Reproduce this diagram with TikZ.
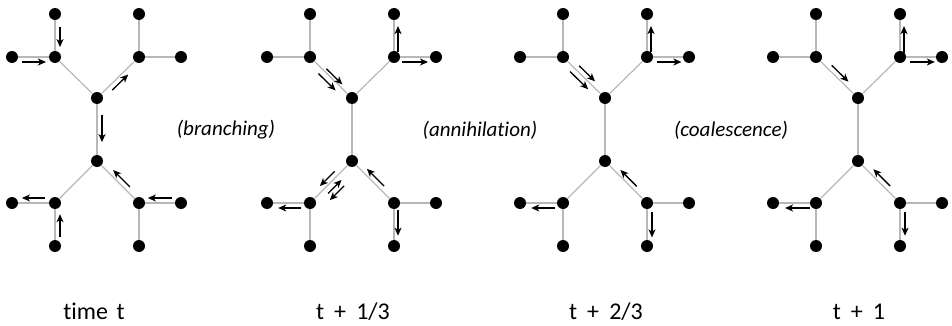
\documentclass[tikz,border=0pt]{standalone}
\usepackage{fontspec}
\setmainfont[Ligatures=NoCommon]{Carlito}
\usetikzlibrary{calc,arrows.meta}
\tikzset{
  dot/.style={circle,fill=black,inner sep=0pt,minimum size=12pt},
  edge/.style={draw=black!28,line width=1.2pt},
  arw/.style={draw=black,line width=1.3pt,-{Stealth[length=8pt,width=7pt,inset=2.2pt]}},
  midlbl/.style={font=\fontsize{21}{25}\selectfont\itshape},
  botlbl/.style={font=\fontsize{24}{28}\selectfont,anchor=base,inner sep=0pt}
}
\newcommand\wsp{\hspace{0.42em}}
\newcommand\mytree[2]{%
  \node[dot] (#1tl) at (#2-42,14) {};
  \node[dot] (#1L) at (#2-42,57) {};
  \node[dot] (#1l) at (#2-85,57) {};
  \node[dot] (#1tr) at (#2+42,14) {};
  \node[dot] (#1R) at (#2+42,57) {};
  \node[dot] (#1r) at (#2+84,57) {};
  \node[dot] (#1T) at (#2,98) {};
  \node[dot] (#1B) at (#2,161) {};
  \node[dot] (#1BL) at (#2-42,203) {};
  \node[dot] (#1bl) at (#2-85,203) {};
  \node[dot] (#1bb) at (#2-42,246) {};
  \node[dot] (#1BR) at (#2+42,203) {};
  \node[dot] (#1br) at (#2+84,203) {};
  \node[dot] (#1brb) at (#2+42,246) {};
  \draw[edge] (#1tl) -- (#1L);
  \draw[edge] (#1l) -- (#1L);
  \draw[edge] (#1L) -- (#1T);
  \draw[edge] (#1tr) -- (#1R);
  \draw[edge] (#1r) -- (#1R);
  \draw[edge] (#1R) -- (#1T);
  \draw[edge] (#1T) -- (#1B);
  \draw[edge] (#1B) -- (#1BL);
  \draw[edge] (#1bl) -- (#1BL);
  \draw[edge] (#1bb) -- (#1BL);
  \draw[edge] (#1B) -- (#1BR);
  \draw[edge] (#1br) -- (#1BR);
  \draw[edge] (#1brb) -- (#1BR);
}
% arrow from #1 toward #2, fractions #3..#4, offset #5 (positive = left of travel)
\newcommand\arw[5]{%
  \draw[arw] ($(#1)!#3!(#2)!#5!90:(#2)$) -- ($(#1)!#4!(#2)!#5!90:(#2)$);
}
\begin{document}
\begin{tikzpicture}[x=1pt,y=-1pt]
\path[use as bounding box] (0,0) rectangle (952,326);
\mytree{a}{97}
\mytree{b}{352}
\mytree{c}{605}
\mytree{d}{858}
% time t
\arw{atl}{aL}{0.3}{0.77}{5pt}
\arw{al}{aL}{0.23}{0.79}{-5pt}
\arw{aT}{aR}{0.28}{0.66}{-5pt}
\arw{aT}{aB}{0.27}{0.7}{5pt}
\arw{aBR}{aB}{0.3}{0.7}{-5pt}
\arw{abr}{aBR}{0.21}{0.79}{-5pt}
\arw{aBL}{abl}{0.23}{0.77}{-5pt}
\arw{abb}{aBL}{0.21}{0.74}{-5pt}
% t+1/3
\arw{bL}{bT}{0.34}{0.72}{3pt}
\arw{bL}{bT}{0.30}{0.71}{-6pt}
\arw{bR}{btr}{0.12}{0.72}{-4pt}
\arw{bR}{br}{0.19}{0.81}{-5pt}
\arw{bB}{bBL}{0.33}{0.68}{-5pt}
\arw{bBL}{bB}{0.33}{0.65}{-6pt}
\arw{bB}{bBL}{0.39}{0.73}{12pt}
\arw{bBL}{bbl}{0.21}{0.74}{5pt}
\arw{bBR}{bB}{0.32}{0.73}{-5pt}
\arw{bBR}{bbrb}{0.16}{0.76}{4pt}
% t+2/3
\arw{cL}{cT}{0.30}{0.68}{5pt}
\arw{cL}{cT}{0.26}{0.69}{-5.5pt}
\arw{cR}{ctr}{0.12}{0.72}{-4pt}
\arw{cR}{cr}{0.23}{0.82}{-5pt}
\arw{cBR}{cB}{0.32}{0.71}{-4.5pt}
\arw{cBL}{cbl}{0.19}{0.74}{5pt}
\arw{cBR}{cbrb}{0.2}{0.8}{5pt}
% t+1
\arw{dL}{dT}{0.29}{0.69}{5pt}
\arw{dR}{dtr}{0.1}{0.72}{-4pt}
\arw{dR}{dr}{0.24}{0.83}{-5pt}
\arw{dBR}{dB}{0.32}{0.72}{-5pt}
\arw{dBL}{dbl}{0.14}{0.72}{5pt}
\arw{dBR}{dbrb}{0.2}{0.76}{5pt}
% labels
\node[midlbl] (lb1) at (226,130) {(branching)};
\node[midlbl] (lb2) at (480,130) {(annihilation)};
\node[midlbl] (lb3) at (731,130) {(coalescence)};
\node[botlbl] (tl1) at (94,319) {time\hspace{0.36em}t};
\node[botlbl] (tl2) at (353,319) {t\wsp+\wsp1/3};
\node[botlbl] (tl3) at (606,319) {t\wsp+\wsp2/3};
\node[botlbl] (tl4) at (859,319) {t\wsp+\wsp1};
\end{tikzpicture}
\end{document}
